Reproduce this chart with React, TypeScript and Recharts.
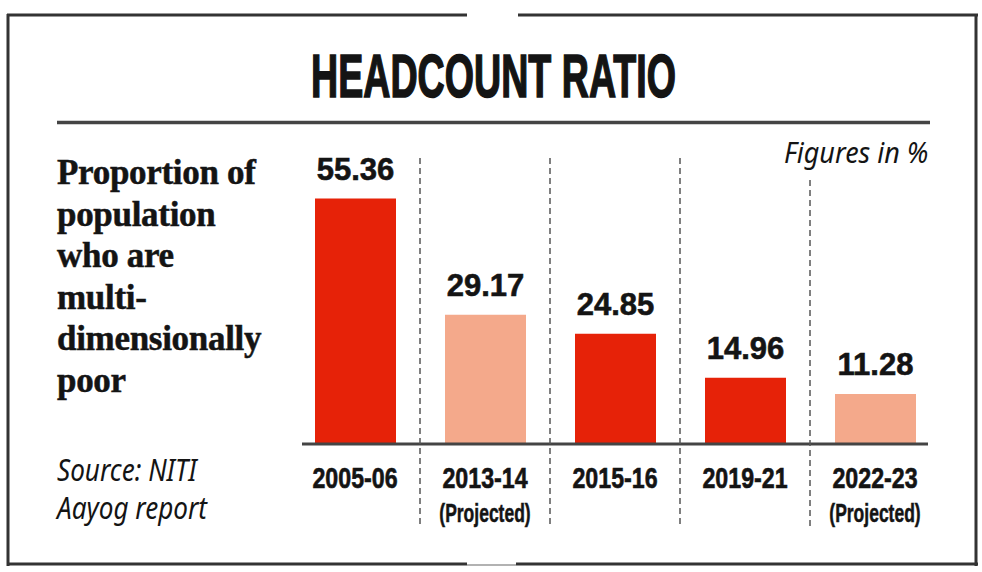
import React from "react";
import { Bar, BarChart, Cell, LabelList, XAxis, YAxis } from "recharts";

const periods = ["2005-06", "2013-14", "2015-16", "2019-21", "2022-23"];
const periodNotes = ["", "(Projected)", "", "", "(Projected)"];
const headcountRatio = [55.36, 29.17, 24.85, 14.96, 11.28];
const isProjected = [false, true, false, false, true];

const chartData = periods.map((period, i) => ({
  period,
  note: periodNotes[i],
  value: headcountRatio[i],
  projected: isProjected[i]
}));

const INK = "#141414";
const RED = "#E62208";
const SALMON = "#F4A98B";
const CONDENSED = "'Liberation Sans', Arial, sans-serif";

function PeriodTick(props: any) {
  const { x, y, payload } = props;
  const i = payload.index ?? props.index;
  const half = payload.offset ?? 65;
  const note = periodNotes[i];
  const isLast = i === periods.length - 1;
  return (
    <g>
      {i > 0 && (
        <line
          x1={x - half}
          x2={x - half}
          y1={y - (isLast ? 264 : 286)}
          y2={y + 83}
          stroke="#555"
          strokeWidth={1.5}
          strokeDasharray="6 4"
        />
      )}
      <text
        transform={`translate(${x} ${y + 44}) scale(0.8 1)`}
        textAnchor="middle"
        fontFamily={CONDENSED}
        fontWeight={700}
        fontSize={29}
        fill={INK}
        stroke={INK}
        strokeWidth={0.6}
      >
        {payload.value}
      </text>
      {note && (
        <text
          transform={`translate(${x} ${y + 78}) scale(0.7 1)`}
          textAnchor="middle"
          fontFamily={CONDENSED}
          fontWeight={700}
          fontSize={25}
          fill={INK}
          stroke={INK}
          strokeWidth={0.5}
        >
          {note}
        </text>
      )}
    </g>
  );
}

function Frame() {
  return (
    <svg width={982} height={572} style={{ position: "absolute", left: 0, top: 0 }}>
      {/* outer box, with the small gaps top and bottom */}
      <line x1={7} x2={467} y1={15} y2={15} stroke="#333" strokeWidth={3} />
      <line x1={518} x2={978} y1={15} y2={15} stroke="#333" strokeWidth={3} />
      <line x1={8} x2={8} y1={14} y2={566} stroke="#333" strokeWidth={3} />
      <line x1={976} x2={976} y1={14} y2={566} stroke="#333" strokeWidth={3} />
      <line x1={7} x2={467} y1={564} y2={564} stroke="#333" strokeWidth={3} />
      <line x1={467} x2={516} y1={565} y2={565} stroke="#999" strokeWidth={1.5} />
      <line x1={516} x2={978} y1={564} y2={564} stroke="#333" strokeWidth={3} />
      <text
        x={493.5}
        y={97}
        textAnchor="middle"
        textLength={365}
        lengthAdjust="spacingAndGlyphs"
        fontFamily={CONDENSED}
        fontWeight={700}
        fontSize={61}
        fill={INK}
        stroke={INK}
        strokeWidth={1.6}
      >
        HEADCOUNT RATIO
      </text>
      <line x1={57} x2={930} y1={122.5} y2={122.5} stroke="#444" strokeWidth={3.5} />
    </svg>
  );
}

export default function App() {
  return (
    <div
      style={{
        position: "absolute",
        left: 0,
        top: 0,
        width: 982,
        height: 572,
        background: "#fff",
        overflow: "hidden"
      }}
    >
      <Frame />

      <div
        style={{
          position: "absolute",
          left: 57,
          top: 152,
          fontFamily: "'Liberation Serif', serif",
          fontWeight: 700,
          fontSize: 35,
          lineHeight: "41.6px",
          letterSpacing: -0.3,
          color: INK,
          whiteSpace: "nowrap",
          WebkitTextStroke: "0.5px #141414"
        }}
      >
        Proportion of
        <br />
        population
        <br />
        who are
        <br />
        multi-
        <br />
        dimensionally
        <br />
        poor
      </div>

      <div
        style={{
          position: "absolute",
          left: 57,
          top: 451,
          fontFamily: "'Noto Sans', sans-serif",
          fontStyle: "italic",
          fontSize: 30,
          lineHeight: "38px",
          color: INK,
          whiteSpace: "nowrap",
          transform: "scaleX(0.87)",
          transformOrigin: "left top"
        }}
      >
        Source: NITI
        <br />
        Aayog report
      </div>

      <div
        style={{
          position: "absolute",
          right: 982 - 928,
          top: 137,
          fontFamily: "'Noto Sans', sans-serif",
          fontStyle: "italic",
          fontSize: 29,
          lineHeight: 1,
          color: INK,
          whiteSpace: "nowrap",
          transform: "scaleX(0.93)",
          transformOrigin: "right top"
        }}
      >
        Figures in %
      </div>

      <div style={{ position: "absolute", left: 0, top: 0 }}>
        <BarChart
          width={982}
          height={572}
          data={chartData}
          margin={{ top: 178, right: 54, left: 302, bottom: 68 }}
        >
          <XAxis
            dataKey="period"
            height={60}
            interval={0}
            padding={{ left: -12, right: -12 }}
            tickLine={false}
            tickSize={0}
            tickMargin={0}
            axisLine={{ stroke: "#444", strokeWidth: 3 }}
            tick={<PeriodTick />}
          />
          <YAxis hide domain={[0, 60]} />
          <Bar dataKey="value" barSize={81} isAnimationActive={false}>
            {chartData.map((d) => (
              <Cell key={d.period} fill={d.projected ? SALMON : RED} />
            ))}
            <LabelList
              dataKey="value"
              position="top"
              offset={19}
              formatter={(v: any) => Number(v).toFixed(2)}
              style={{
                fontFamily: CONDENSED,
                fontWeight: 700,
                fontSize: 31,
                fill: INK,
                stroke: INK,
                strokeWidth: 0.6
              }}
            />
          </Bar>
        </BarChart>
      </div>
    </div>
  );
}
